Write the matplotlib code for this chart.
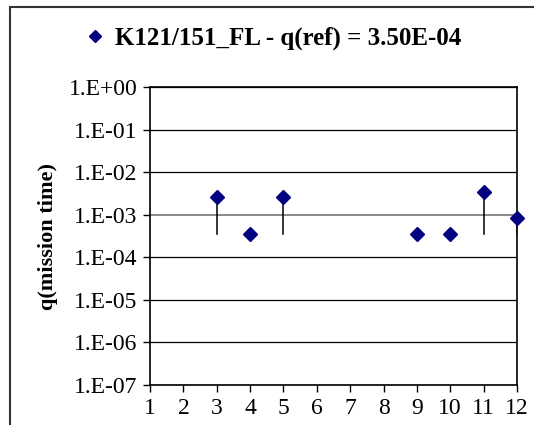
import matplotlib.pyplot as plt
from matplotlib.lines import Line2D
from matplotlib.patches import Rectangle

# values
x = [3, 4, 5, 9, 10, 11, 12]
q = [2.6e-3, 3.5e-4, 2.6e-3, 3.5e-4, 3.5e-4, 3.5e-3, 8.5e-4]
q_ref = 3.5e-4
yticks = [1e0, 1e-1, 1e-2, 1e-3, 1e-4, 1e-5, 1e-6, 1e-7]
ylabels = ['1.E+00', '1.E-01', '1.E-02', '1.E-03', '1.E-04', '1.E-05', '1.E-06', '1.E-07']

plt.rcParams['font.family'] = ['Liberation Serif', 'DejaVu Serif']

fig = plt.figure(figsize=(5.34, 4.25), dpi=100)
ax = fig.add_axes([0.281, 0.094, 0.687, 0.701])

ax.set_yscale('log')
ax.set_ylim(1e-7, 1e0)
ax.set_xlim(1, 12)

for t in yticks:
    c = '#808080' if t == 1e-3 else 'black'
    ax.axhline(t, color=c, lw=1.3 if t == 1e-3 else 0.9, zorder=1)

# lines from q(ref) up to points above it
for xi, qi in zip(x, q):
    if qi > q_ref:
        ax.plot([xi, xi], [q_ref, qi], color='black', lw=1.1, zorder=2)

ax.plot(x, q, linestyle='none', marker='D', markersize=7, color='#000080',
        clip_on=False, zorder=3)

ax.set_yticks(yticks)
ax.set_yticklabels(ylabels)
ax.minorticks_off()
ax.set_xticks(range(1, 13))
ax.tick_params(axis='both', labelsize=17, length=5, direction='out', width=1)
ax.tick_params(axis='x', pad=4)
ax.tick_params(axis='y', pad=4)
for s in ax.spines.values():
    s.set_linewidth(1.2)

ax.set_ylabel('q(mission time)', fontsize=16, fontweight='bold', labelpad=8)

handle = Line2D([], [], linestyle='none', marker='D', markersize=6, color='#000080')
fig.legend([handle], ['K121/151_FL - q(ref) = 3.50E-04'], loc='center',
           bbox_to_anchor=(0.51, 0.91), frameon=False, handletextpad=0.3,
           handlelength=1.0, prop={'size': 18, 'weight': 'bold'})

# outer chart border (partly cropped)
fig.patches.append(Rectangle((10 / 534, -0.1), 1.2, 1 - 7 / 425 + 0.1,
                             transform=fig.transFigure, fill=False,
                             edgecolor='#333333', lw=1.5))

fig.savefig('out.png', dpi=100)
